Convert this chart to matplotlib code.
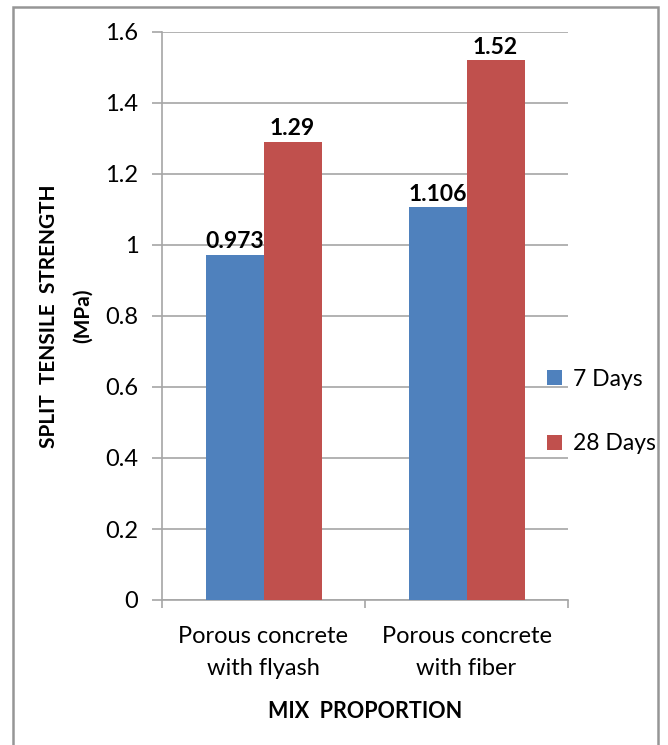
import numpy as np
import matplotlib
matplotlib.use("Agg")
import matplotlib.pyplot as plt
from matplotlib.patches import Rectangle

plt.rcParams['font.family'] = ['Lato', 'DejaVu Sans']

categories = ["Porous concrete\nwith flyash", "Porous concrete\nwith fiber"]
days_7 = [0.973, 1.106]
days_28 = [1.29, 1.52]
labels_7 = ["0.973", "1.106"]
labels_28 = ["1.29", "1.52"]
y_ticks = [0, 0.2, 0.4, 0.6, 0.8, 1.0, 1.2, 1.4, 1.6]
y_tick_labels = ["0", "0.2", "0.4", "0.6", "0.8", "1", "1.2", "1.4", "1.6"]

BLUE = "#4F81BD"
RED = "#C0504D"
GRID = "#A6A6A6"

fig = plt.figure(figsize=(6.68, 7.45), dpi=100)
ax = fig.add_axes([162/668, 1-600/745, (568-162)/668, (600-32)/745])

x = np.arange(len(categories))
w = 58/203
b1 = ax.bar(x - w/2, days_7, w, color=BLUE, label="7 Days", zorder=3)
b2 = ax.bar(x + w/2, days_28, w, color=RED, label="28 Days", zorder=3)

for bars, labs in [(b1, labels_7), (b2, labels_28)]:
    for bar, lab in zip(bars, labs):
        ax.annotate(lab, (bar.get_x() + bar.get_width()/2, bar.get_height()),
                    xytext=(0, 2), textcoords="offset points", ha="center", va="bottom",
                    fontsize=16.5, fontweight="bold")

ax.set_xlim(-0.5, 1.5)
ax.set_ylim(0, 1.6)
ax.set_yticks(y_ticks)
ax.set_yticklabels(y_tick_labels, fontsize=17)
ax.set_xticks(x)
ax.set_xticklabels(categories, fontsize=17, linespacing=1.6)
ax.set_xticks([-0.5, 0.5, 1.5], minor=True)
ax.tick_params(axis="x", which="major", length=0, pad=19)
ax.tick_params(axis="x", which="minor", length=6, color=GRID, width=1.2)
ax.tick_params(axis="y", length=7, color=GRID, width=1.2, pad=10)

ax.yaxis.grid(True, color=GRID, linewidth=1.2, zorder=0)
ax.set_axisbelow(True)
for s in ["top", "right"]:
    ax.spines[s].set_visible(False)
for s in ["left", "bottom"]:
    ax.spines[s].set_color(GRID)
    ax.spines[s].set_linewidth(1.2)

# y axis title, two lines placed by hand
fig.text(49/668, 1 - 316/745, "SPLIT  TENSILE  STRENGTH", rotation=90,
         ha="center", va="center", fontsize=15, fontweight="bold")
fig.text(83/668, 1 - 316/745, "(MPa)", rotation=90,
         ha="center", va="center", fontsize=15, fontweight="bold")
ax.set_xlabel("MIX  PROPORTION", fontsize=15.5, fontweight="bold", labelpad=16)

ax.legend(loc="upper left", bbox_to_anchor=(540/668, 1 - 362/745),
          bbox_transform=fig.transFigure, frameon=False,
          fontsize=16.5, handlelength=0.65, handleheight=0.65, labelspacing=1.9,
          handletextpad=0.5, borderaxespad=0, borderpad=0.3)

# outer chart border (cut off at bottom)
fig.patches.append(Rectangle((13/668, -0.05), (658-13)/668, 1.05 - 7/745,
                             transform=fig.transFigure, fill=False,
                             edgecolor="#969696", linewidth=1.8))

fig.savefig("out.png", dpi=100)
